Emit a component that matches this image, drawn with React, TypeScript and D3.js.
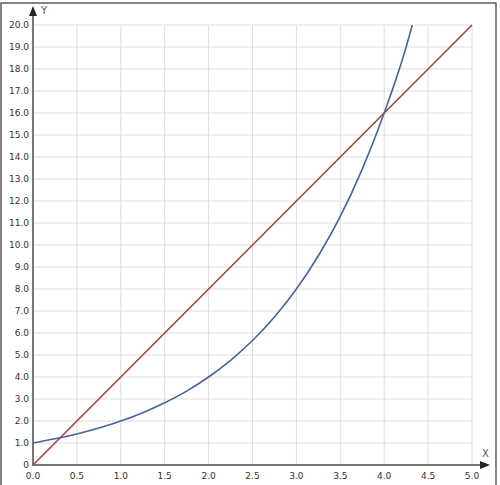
import React from 'react';
import * as d3 from 'd3';

// tick values
const xTicks = [0, 0.5, 1, 1.5, 2, 2.5, 3, 3.5, 4, 4.5, 5];
const yTicks = d3.range(0, 21);

// blue curve, points
const curveX = [0, 0.25, 0.5, 0.75, 1, 1.25, 1.5, 1.75, 2, 2.25, 2.5, 2.75, 3, 3.25, 3.5, 3.75, 4, 4.25, 4.32];
const curveY = [1, 1.19, 1.41, 1.68, 2, 2.38, 2.83, 3.36, 4, 4.76, 5.66, 6.73, 8, 9.51, 11.3, 13.45, 16, 19.0, 20];

// red line
const lineX = [0, 5];
const lineY = [0, 20];

const W = 500;
const H = 485;

const App = () => {
    const x = d3.scaleLinear().domain([0, 5]).range([33, 472]);
    const y = d3.scaleLinear().domain([0, 20]).range([465, 25]);

    const line = d3.line<[number, number]>()
        .x(d => x(d[0]))
        .y(d => y(d[1]));

    const bluePts = curveX.map((v, i) => [v, curveY[i]] as [number, number]);
    const redPts = lineX.map((v, i) => [v, lineY[i]] as [number, number]);

    const blue = line.curve(d3.curveMonotoneX)(bluePts) || '';
    const red = d3.line<[number, number]>().x(d => x(d[0])).y(d => y(d[1]))(redPts) || '';

    const font = 'Verdana, "DejaVu Sans", sans-serif';

    return (
        <svg width={W} height={H} style={{position: 'absolute', left: 0, top: 0, display: 'block'}}>
            <rect x={0} y={0} width={W} height={H} fill="#fff"/>
            <rect x={1} y={3} width={495} height={H + 10} fill="none" stroke="#333" strokeWidth={1.2}/>

            {/* grid */}
            <g stroke="#dedede" strokeWidth={1}>
                {xTicks.slice(1).map(t => (
                    <line key={'gx' + t} x1={x(t)} x2={x(t)} y1={y(20)} y2={y(0)}/>
                ))}
                {yTicks.slice(1).map(t => (
                    <line key={'gy' + t} x1={x(0)} x2={x(5)} y1={y(t)} y2={y(t)}/>
                ))}
            </g>

            {/* axes */}
            <g stroke="#777" strokeWidth={2}>
                <line x1={x(0)} x2={x(0)} y1={y(0) + 1} y2={14}/>
                <line x1={x(0) - 1} x2={482} y1={y(0)} y2={y(0)}/>
            </g>
            <path d={`M${x(0) - 4},16 L${x(0)},6 L${x(0) + 4},16 Z`} fill="#222"/>
            <path d={`M480,${y(0) - 4} L490,${y(0)} L480,${y(0) + 4} Z`} fill="#222"/>

            {/* tick labels */}
            <g fontFamily={font} fontSize={9} fill="#333">
                {yTicks.map(t => (
                    <text key={'ty' + t} x={29} y={y(t)} dy="0.35em" textAnchor="end">
                        {t === 0 ? '0' : d3.format('.1f')(t)}
                    </text>
                ))}
                {xTicks.map(t => (
                    <text key={'tx' + t} x={x(t)} y={y(0) + 14} textAnchor="middle">
                        {d3.format('.1f')(t)}
                    </text>
                ))}
            </g>
            <g fontFamily={font} fontSize={10} fill="#555">
                <text x={x(0) + 8} y={14}>Y</text>
                <text x={482} y={y(0) - 8}>X</text>
            </g>

            {/* series */}
            <path d={red} fill="none" stroke="#a8433a" strokeWidth={1.6}/>
            <path d={blue} fill="none" stroke="#45649c" strokeWidth={1.6}/>
        </svg>
    );
};

export default App;
